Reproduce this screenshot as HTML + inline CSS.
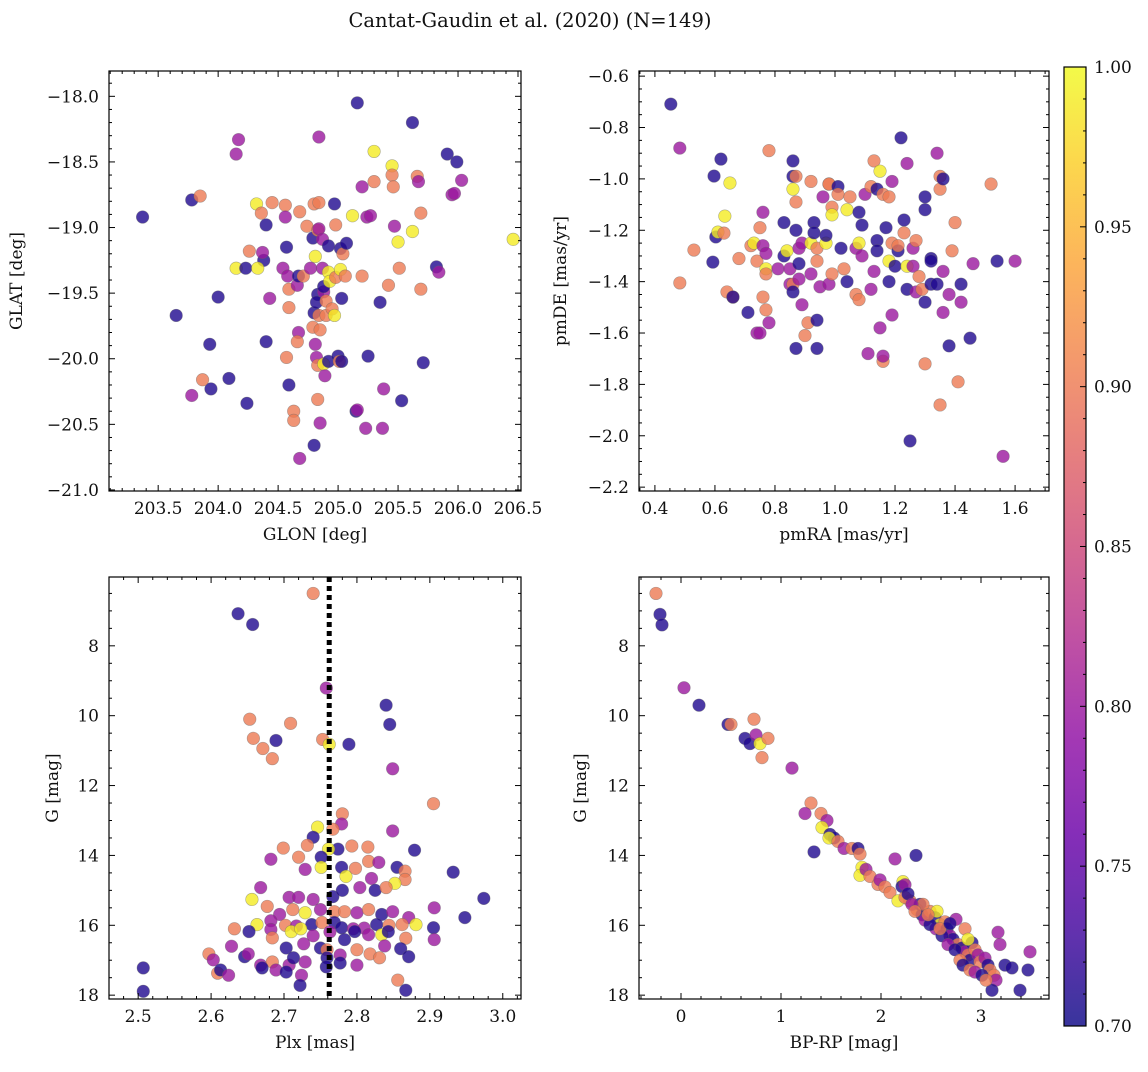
<!DOCTYPE html>
<html><head><meta charset="utf-8"><style>
html,body{margin:0;padding:0;background:#fff;}
svg text{font-family:"DejaVu Serif","Liberation Serif",serif;fill:#111;}
</style></head><body>
<svg id="chart" width="1148" height="1067" viewBox="0 0 1148 1067" xmlns="http://www.w3.org/2000/svg">
<rect width="1148" height="1067" fill="#fff"/>
<text x="530" y="27" font-size="19.5" text-anchor="middle">Cantat-Gaudin et al. (2020) (N=149)</text>
</svg>
<script>
const p1Glon=[203.37,203.78,203.65,203.93,204.0,204.09,203.94,203.87,203.78,203.85,204.17,204.15,204.15,204.24,204.23,204.26,204.32,204.4,204.38,204.36,204.45,204.4,204.37,204.33,204.43,204.54,204.56,204.56,204.57,204.58,204.59,204.59,204.57,204.59,204.63,204.63,204.68,204.68,204.66,204.67,204.67,204.66,204.71,204.74,204.77,204.79,204.8,204.79,204.81,204.8,204.81,204.84,204.84,204.83,204.84,204.83,204.82,204.84,204.85,204.82,204.83,204.83,204.85,204.8,204.87,204.87,204.88,204.88,204.9,204.9,204.88,204.89,204.92,204.93,204.92,204.92,204.95,204.97,204.97,204.98,204.98,205.0,205.01,205.02,205.02,205.03,205.03,205.04,205.06,205.07,205.12,205.15,205.16,205.16,205.2,205.2,205.24,205.25,205.23,205.3,205.3,205.27,205.35,205.38,205.37,205.42,205.45,205.45,205.46,205.47,205.5,205.51,205.53,205.62,205.62,205.66,205.67,205.69,205.69,205.71,205.82,205.84,205.91,205.95,205.97,205.99,206.03,206.46];
const p1Glat=[-18.92,-18.79,-19.67,-19.89,-19.53,-20.15,-20.23,-20.16,-20.28,-18.76,-18.33,-18.44,-19.31,-20.34,-19.31,-19.18,-18.82,-18.98,-19.25,-18.89,-18.81,-19.87,-19.19,-19.31,-19.54,-19.31,-18.83,-18.92,-19.15,-19.37,-19.47,-19.61,-19.99,-20.2,-20.4,-20.47,-20.76,-18.88,-19.44,-19.8,-19.37,-19.87,-19.37,-18.99,-19.31,-19.08,-19.65,-19.76,-19.89,-18.82,-19.22,-18.31,-18.81,-19.02,-19.01,-19.51,-19.57,-19.67,-19.78,-19.99,-20.05,-20.31,-20.49,-20.66,-19.09,-19.31,-19.49,-19.45,-19.56,-19.67,-20.04,-20.13,-19.34,-19.41,-19.14,-20.02,-19.62,-18.82,-19.67,-19.38,-18.98,-19.98,-20.02,-19.16,-19.32,-19.54,-20.02,-19.2,-19.37,-19.12,-18.91,-20.4,-18.05,-20.39,-18.69,-19.37,-18.92,-19.98,-20.53,-18.42,-18.65,-18.91,-19.57,-20.23,-20.53,-19.44,-18.53,-18.6,-18.69,-18.99,-19.11,-19.31,-20.32,-19.03,-18.2,-18.61,-18.65,-18.89,-19.47,-20.03,-19.3,-19.34,-18.44,-18.75,-18.74,-18.5,-18.64,-19.09];
const p1Prob=[.71,.71,.71,.71,.71,.71,.71,.9,.8,.9,.8,.8,.99,.71,.71,.9,.99,.71,.71,.9,.9,.71,.8,.99,.8,.8,.9,.8,.71,.8,.9,.9,.9,.71,.9,.9,.8,.9,.8,.8,.71,.9,.9,.9,.8,.71,.71,.9,.8,.9,.99,.8,.9,.9,.8,.71,.71,.9,.9,.8,.9,.9,.8,.71,.8,.8,.8,.71,.9,.9,.99,.8,.99,.99,.71,.71,.9,.71,.99,.9,.9,.71,.9,.71,.99,.71,.71,.9,.9,.71,.99,.71,.71,.8,.8,.9,.8,.71,.8,.99,.9,.8,.71,.8,.8,.9,.99,.9,.9,.8,.99,.9,.71,.99,.71,.9,.8,.9,.9,.71,.71,.8,.71,.8,.8,.71,.8,.99];

const p2Pmra=[.453,.483,.483,.53,.603,.61,.597,.62,.65,.593,.633,.63,.64,.66,.66,.68,.71,.72,.73,.74,.75,.74,.75,.76,.76,.76,.77,.77,.77,.77,.78,.78,.81,.83,.83,.84,.85,.85,.86,.86,.86,.86,.86,.87,.87,.87,.87,.88,.88,.88,.89,.89,.90,.91,.92,.92,.92,.93,.93,.94,.94,.94,.94,.95,.96,.97,.97,.98,.98,.98,.99,.99,.99,1.01,1.01,1.02,1.03,1.04,1.04,1.05,1.07,1.07,1.08,1.08,1.08,1.09,1.09,1.10,1.11,1.12,1.12,1.13,1.13,1.14,1.14,1.14,1.15,1.15,1.16,1.16,1.16,1.17,1.18,1.18,1.18,1.19,1.19,1.19,1.20,1.21,1.21,1.22,1.23,1.23,1.24,1.24,1.24,1.25,1.26,1.26,1.27,1.27,1.28,1.29,1.30,1.30,1.30,1.30,1.32,1.32,1.32,1.34,1.34,1.35,1.35,1.35,1.36,1.36,1.36,1.38,1.38,1.39,1.40,1.41,1.42,1.42,1.45,1.46,1.52,1.54,1.60,1.56];
const p2Pmde=[-.709,-.88,-1.405,-1.277,-1.226,-1.207,-.989,-.923,-1.016,-1.324,-1.145,-1.211,-1.44,-1.46,-1.46,-1.31,-1.52,-1.26,-1.25,-1.32,-1.19,-1.60,-1.60,-1.46,-1.13,-1.26,-1.35,-1.37,-1.29,-1.51,-1.56,-.89,-1.35,-1.30,-1.17,-1.28,-1.35,-1.41,-1.41,-1.44,-.93,-.99,-1.04,-.99,-1.09,-1.20,-1.66,-1.33,-1.39,-1.27,-1.25,-1.49,-1.61,-1.56,-1.37,-1.01,-1.25,-1.17,-1.21,-1.27,-1.32,-1.55,-1.66,-1.42,-1.07,-1.25,-1.22,-1.41,-1.02,-1.02,-1.11,-1.14,-1.37,-1.03,-1.06,-1.27,-1.35,-1.40,-1.12,-1.07,-1.27,-1.45,-1.13,-1.47,-1.25,-1.18,-1.30,-1.06,-1.68,-1.03,-1.43,-1.36,-.93,-1.24,-1.04,-1.28,-1.58,-.97,-1.71,-1.69,-1.06,-1.19,-1.07,-1.32,-1.40,-1.53,-1.25,-1.01,-1.34,-1.28,-1.26,-.84,-1.16,-1.21,-1.34,-.94,-1.43,-2.02,-1.27,-1.34,-1.44,-1.24,-1.38,-1.43,-1.72,-1.07,-1.12,-1.48,-1.31,-1.32,-1.41,-1.41,-.90,-1.04,-.99,-1.88,-1.00,-1.36,-1.52,-1.45,-1.65,-1.28,-1.17,-1.79,-1.48,-1.41,-1.62,-1.33,-1.02,-1.32,-1.32,-2.08];
const p2Prob=[.71,.8,.9,.9,.71,.99,.71,.71,.99,.71,.99,.9,.9,.9,.71,.9,.71,.9,.99,.9,.9,.8,.8,.9,.8,.8,.99,.9,.8,.9,.8,.9,.8,.71,.71,.99,.8,.8,.9,.71,.71,.71,.99,.9,.9,.71,.71,.71,.8,.8,.8,.8,.9,.9,.8,.9,.99,.71,.71,.9,.9,.71,.71,.8,.8,.99,.71,.8,.9,.9,.9,.99,.9,.71,.9,.71,.9,.71,.99,.9,.8,.9,.71,.9,.99,.71,.8,.8,.8,.9,.8,.8,.9,.71,.71,.71,.8,.99,.9,.8,.9,.71,.9,.99,.71,.8,.9,.8,.71,.71,.9,.71,.71,.9,.99,.8,.71,.71,.8,.8,.8,.9,.9,.9,.9,.71,.71,.71,.71,.71,.71,.71,.8,.9,.9,.9,.71,.8,.8,.8,.71,.9,.9,.9,.8,.71,.71,.8,.9,.71,.8,.8];

const p3Plx=[2.74,2.637,2.657,2.758,2.653,2.709,2.658,2.671,2.689,2.684,2.753,2.762,2.789,2.84,2.845,2.849,2.905,2.78,2.779,2.746,2.767,2.74,2.849,2.879,2.932,2.815,2.793,2.774,2.761,2.699,2.682,2.72,2.732,2.751,2.751,2.729,2.779,2.785,2.798,2.816,2.83,2.855,2.866,2.866,2.852,2.82,2.668,2.656,2.707,2.72,2.74,2.767,2.78,2.804,2.825,2.84,2.906,2.677,2.694,2.712,2.729,2.75,2.769,2.783,2.8,2.816,2.834,2.849,2.871,2.948,2.974,2.663,2.682,2.702,2.717,2.738,2.752,2.769,2.779,2.795,2.81,2.827,2.844,2.862,2.881,2.905,2.632,2.652,2.682,2.71,2.723,2.74,2.763,2.783,2.797,2.816,2.834,2.843,2.867,2.906,2.628,2.684,2.703,2.727,2.75,2.759,2.777,2.8,2.818,2.838,2.86,2.597,2.603,2.646,2.651,2.668,2.684,2.707,2.713,2.729,2.759,2.758,2.777,2.8,2.831,2.871,2.609,2.613,2.624,2.67,2.689,2.703,2.724,2.856,2.507,2.507,2.722,2.867];
const p3G=[6.5,7.08,7.39,9.21,10.1,10.22,10.65,10.94,10.71,11.23,10.68,10.82,10.82,9.7,10.25,11.52,12.52,12.81,13.1,13.19,13.25,13.48,13.3,13.85,14.48,13.76,13.73,13.82,13.82,13.79,14.11,14.05,13.71,14.05,14.34,14.4,14.34,14.6,14.37,14.17,14.2,14.34,14.45,14.69,14.8,14.66,14.92,15.26,15.2,15.2,15.26,15.18,15.0,14.92,15.0,14.92,15.5,15.46,15.69,15.55,15.64,15.55,15.61,15.61,15.64,15.55,15.69,15.61,15.78,15.78,15.23,15.98,15.87,16.0,16.02,15.98,15.92,15.92,16.07,16.1,16.08,15.98,16.0,15.98,15.98,16.07,16.1,16.18,16.12,16.18,16.1,16.3,16.19,16.41,16.18,16.27,16.27,16.18,16.37,16.41,16.6,16.36,16.65,16.53,16.65,16.7,16.85,16.7,16.82,16.59,16.67,16.82,16.99,16.9,16.82,17.14,17.05,17.14,16.93,17.05,16.93,17.19,17.08,17.14,16.93,16.9,17.37,17.28,17.43,17.22,17.28,17.34,17.43,17.57,17.22,17.89,17.72,17.86];
const p3Prob=[.9,.71,.71,.8,.9,.9,.9,.9,.71,.9,.9,.99,.71,.71,.71,.8,.9,.9,.8,.99,.9,.71,.8,.71,.71,.9,.9,.71,.99,.9,.8,.9,.9,.71,.99,.8,.71,.99,.9,.9,.8,.71,.9,.9,.99,.8,.8,.99,.8,.8,.8,.71,.71,.8,.71,.9,.8,.9,.8,.9,.99,.8,.9,.9,.8,.9,.71,.8,.8,.71,.71,.99,.8,.9,.8,.71,.9,.71,.71,.8,.8,.71,.9,.9,.99,.71,.9,.71,.8,.99,.99,.8,.8,.71,.71,.8,.99,.71,.9,.8,.8,.9,.71,.8,.71,.9,.8,.9,.9,.8,.71,.9,.8,.71,.8,.8,.9,.8,.71,.8,.71,.71,.71,.8,.9,.71,.9,.71,.8,.71,.8,.71,.8,.9,.71,.71,.71,.71];

const p4Bprp=[-0.25,-0.21,-0.19,0.03,0.18,0.47,0.5,0.64,0.69,0.73,0.75,0.79,0.81,0.87,1.11,1.30,1.24,1.4,1.33,1.46,1.41,1.49,1.53,1.48,1.57,1.63,1.71,1.77,1.79,1.81,1.79,1.85,1.89,1.97,1.99,2.04,2.09,2.14,2.22,2.21,2.24,2.17,2.35,2.29,2.36,2.39,2.41,2.44,2.49,2.54,2.56,2.59,2.55,2.64,2.66,2.69,2.72,2.75,2.77,2.81,2.84,2.84,2.87,2.89,2.91,2.94,2.97,2.99,3.04,3.07,3.09,3.13,3.15,3.17,3.19,3.11,3.24,3.31,3.39,3.47,3.49,2.42,2.49,2.61,2.67,2.74,2.79,2.82,2.89,2.94,3.01,3.05,2.24,2.27,2.31,2.34,2.47,2.59,2.69,2.87];
const p4G=[6.5,7.1,7.4,9.2,9.7,10.25,10.25,10.65,10.8,10.1,10.55,10.8,11.2,10.65,11.5,12.5,12.8,12.8,13.9,13.0,13.2,13.4,13.5,13.5,13.6,13.8,13.8,13.8,13.96,14.34,14.57,14.4,14.6,14.83,14.7,14.9,15.06,14.1,14.75,14.89,14.84,15.3,14.0,15.3,15.55,15.4,15.7,15.85,15.6,15.78,15.6,15.98,16.1,15.9,16.1,16.3,16.4,15.83,16.55,16.65,16.1,16.76,16.85,17.0,16.5,16.7,16.85,17.05,16.94,17.14,17.28,17.43,17.57,16.2,16.55,17.86,17.14,17.22,17.86,17.28,16.76,15.4,15.98,16.3,16.55,16.7,17.0,17.14,17.28,17.34,17.43,17.57,15.2,15.1,15.4,15.6,15.7,16.1,15.95,16.4];
const p4Prob=[.9,.71,.71,.8,.71,.71,.9,.71,.71,.9,.8,.99,.9,.9,.8,.9,.8,.9,.71,.8,.99,.71,.71,.99,.9,.8,.9,.71,.9,.99,.99,.8,.9,.9,.8,.9,.9,.8,.99,.71,.8,.99,.71,.9,.9,.71,.71,.8,.9,.71,.99,.99,.8,.9,.71,.8,.71,.8,.9,.71,.9,.8,.9,.71,.71,.9,.8,.9,.8,.71,.9,.9,.8,.8,.8,.71,.71,.71,.71,.71,.8,.9,.71,.71,.8,.71,.9,.71,.9,.8,.71,.9,.9,.71,.8,.9,.9,.9,.71,.99];

const cbTicks=[0.70,0.75,0.80,0.85,0.90,0.95,1.00];
const plxRef=[2.762];

const NS='http://www.w3.org/2000/svg';
const svg=document.getElementById('chart');
function mk(tag,attrs,parent){const e=document.createElementNS(NS,tag);for(const k in attrs)e.setAttribute(k,attrs[k]);(parent||svg).appendChild(e);return e;}
const stops=[[13,8,135],[65,4,157],[106,0,168],[143,13,164],[177,42,144],[204,71,120],[225,100,98],[242,132,75],[252,166,54],[252,206,37],[240,249,33]];
function plasma(t){t=Math.max(0,Math.min(1,t));const f=t*10,i=Math.min(9,Math.floor(f)),r=f-i;const a=stops[i],b=stops[i+1];return 'rgb('+a.map((v,k)=>Math.round(v+(b[k]-v)*r)).join(',')+')';}
function norm(p){return (p-0.7)/0.3;}
const FS=17;

function panel(name,box,xr,yr,xMaj,xMin,yMaj,yMin,xfmt,yfmt,xlabel,ylabel,ylabX,xs,ys,ps){
  const [L,T,R,B]=box;
  const sx=v=>L+(v-xr[0])/(xr[1]-xr[0])*(R-L);
  const sy=v=>T+(v-yr[0])/(yr[1]-yr[0])*(B-T);
  const g=mk('g',{});
  
  
  const clipId='clip-'+name;
  const cp=mk('clipPath',{id:clipId},g);mk('rect',{x:L,y:T,width:R-L,height:B-T},cp);
  const pts=mk('g',{'clip-path':'url(#'+clipId+')'},g);
  
  
  const n=Math.min(xs.length,ys.length,ps.length);
  for(let i=0;i<n;i++){
    const c=mk('circle',{cx:sx(xs[i]),cy:sy(ys[i]),r:6.3,fill:plasma(norm(ps[i])),'fill-opacity':0.8,stroke:'#666','stroke-opacity':0.5,'stroke-width':0.6},pts);
    
    
  }
  g.sx=sx;g.sy=sy;
  const ax=mk('g',{stroke:'#000','stroke-width':1},g);
  const eps=1e-9;
  for(let v=Math.ceil(xr[0]/xMin-eps)*xMin;v<=xr[1]+eps;v+=xMin){
    const isMaj=Math.abs(v/xMaj-Math.round(v/xMaj))<1e-6;const len=isMaj?6:3;const x=sx(v);
    mk('line',{x1:x,x2:x,y1:B,y2:B-len},ax);mk('line',{x1:x,x2:x,y1:T,y2:T+len},ax);
    if(isMaj){const t=mk('text',{x:x,y:B+23,'font-size':FS,'text-anchor':'middle',stroke:'none'},g);t.textContent=xfmt(v);
      }
  }
  const ylo=Math.min(yr[0],yr[1]),yhi=Math.max(yr[0],yr[1]);
  for(let v=Math.ceil(ylo/yMin-eps)*yMin;v<=yhi+eps;v+=yMin){
    const isMaj=Math.abs(v/yMaj-Math.round(v/yMaj))<1e-6;const len=isMaj?6:3;const y=sy(v);
    mk('line',{x1:L,x2:L+len,y1:y,y2:y},ax);mk('line',{x1:R,x2:R-len,y1:y,y2:y},ax);
    if(isMaj){const t=mk('text',{x:L-10,y:y+6,'font-size':FS,'text-anchor':'end',stroke:'none'},g);t.textContent=yfmt(v);
      }
  }
  mk('rect',{x:L,y:T,width:R-L,height:B-T,fill:'none',stroke:'#000','stroke-width':1.2},g);
  const xl=mk('text',{x:(L+R)/2,y:B+49,'font-size':FS,'text-anchor':'middle'},g);xl.textContent=xlabel;
  
  const yy=(T+B)/2;
  const yl=mk('text',{x:ylabX,y:yy,'font-size':FS,'text-anchor':'middle',transform:'rotate(-90 '+ylabX+' '+yy+')'},g);yl.textContent=ylabel;
  
  return g;
}
const minus=s=>s.replace('-','\u2212');
panel('panel-glon-glat',[109,71,521,491],[203.09,206.525],[-17.807,-21.008],0.5,0.1,0.5,0.1,v=>minus(v.toFixed(1)),v=>minus(v.toFixed(1)),'GLON [deg]','GLAT [deg]',22,p1Glon,p1Glat,p1Prob);
panel('panel-pm',[639,71,1049,491],[0.347,1.713],[-0.58,-2.215],0.2,0.05,0.2,0.05,v=>minus(v.toFixed(1)),v=>minus(v.toFixed(1)),'pmRA [mas/yr]','pmDE [mas/yr]',566,p2Pmra,p2Pmde,p2Prob);
const p3=panel('panel-plx-g',[109,577,521,999],[2.46,3.025],[6.03,18.11],0.1,0.02,2,0.5,v=>v.toFixed(1),v=>v.toFixed(0),'Plx [mas]','G [mag]',58,p3Plx,p3G,p3Prob);
panel('panel-cmd',[639,577,1049,999],[-0.42,3.68],[6.03,18.11],1,0.2,2,0.5,v=>v.toFixed(0),v=>v.toFixed(0),'BP-RP [mag]','G [mag]',586,p4Bprp,p4G,p4Prob);
plxRef.forEach(v=>{
  const l=mk('line',{x1:p3.sx(v),x2:p3.sx(v),y1:577,y2:999,stroke:'#000','stroke-width':5,'stroke-dasharray':'5,4'},p3);
  
  
});

const cb=mk('g',{});


const defs=mk('defs',{},cb);
const lg=mk('linearGradient',{id:'plasmaGrad',x1:0,y1:1,x2:0,y2:0},defs);
for(let i=0;i<=20;i++){mk('stop',{offset:(i/20),'stop-color':plasma(i/20)},lg);}
const cL=1064,cT=67,cR=1086,cB=1026;
mk('rect',{x:cL,y:cT,width:cR-cL,height:cB-cT,fill:'url(#plasmaGrad)','fill-opacity':0.82},cb);
mk('rect',{x:cL,y:cT,width:cR-cL,height:cB-cT,fill:'none',stroke:'#000','stroke-width':1.2},cb);
const cy=v=>cB-(v-0.7)/0.3*(cB-cT);
for(let k=70;k<=100;k++){const v=k/100;const maj=k%5===0;const y=cy(v);
  mk('line',{x1:cR,x2:cR-(maj?6:3),y1:y,y2:y,stroke:'#000','stroke-width':1},cb);}
cbTicks.forEach(v=>{const t=mk('text',{x:cR+8,y:cy(v)+6,'font-size':FS},cb);t.textContent=v.toFixed(2);
  });
</script>
</body></html>
